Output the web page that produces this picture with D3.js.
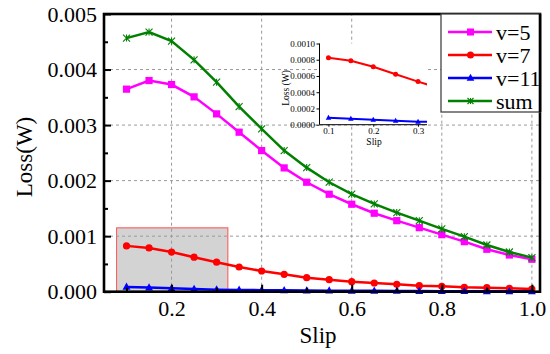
<!DOCTYPE html>
<html>
<head>
<meta charset="UTF-8">
<title>Loss vs Slip</title>
<style>
  body { margin: 0; background: #fff; }
  svg text { font-family: "Liberation Serif", "Tinos", "Times New Roman", "DejaVu Serif", "Noto Serif", serif; }
</style>
</head>
<body>
<script src="https://d3js.org/d3.v7.min.js"></script>
<script>
// data
var slip = [0.10, 0.15, 0.20, 0.25, 0.30, 0.35, 0.40, 0.45, 0.50, 0.55,
            0.60, 0.65, 0.70, 0.75, 0.80, 0.85, 0.90, 0.95, 1.00];
var v5  = [0.003647, 0.003802, 0.003730, 0.003508, 0.003202, 0.002872, 0.002541, 0.002229, 0.001971, 0.001755,
           0.001575, 0.001413, 0.001279, 0.001153, 0.001027, 0.000901, 0.000764, 0.000661, 0.000584];
var v7  = [0.000825, 0.000788, 0.000714, 0.000621, 0.000531, 0.000445, 0.000373, 0.000313, 0.000252, 0.000216,
           0.000180, 0.000157, 0.000133, 0.000108, 0.000097, 0.000079, 0.000072, 0.000061, 0.000049];
var v11 = [0.000086, 0.000074, 0.000062, 0.000049, 0.000037, 0.000032, 0.000028, 0.000024, 0.000021, 0.000019,
           0.000017, 0.000015, 0.000013, 0.000012, 0.000010, 0.000009, 0.000008, 0.000007, 0.000006];
var sum = [0.004566, 0.004674, 0.004511, 0.004175, 0.003773, 0.003333, 0.002932, 0.002541, 0.002234, 0.001971,
           0.001755, 0.001580, 0.001424, 0.001279, 0.001130, 0.000991, 0.000841, 0.000715, 0.000613];

var seriesNames = ["v=5", "v=7", "v=11", "sum"];
var xTicks = [0.2, 0.4, 0.6, 0.8, 1.0];
var yTicks = [0.000, 0.001, 0.002, 0.003, 0.004, 0.005];
var yMinor = [0.0005, 0.0015, 0.0025, 0.0035, 0.0045];
var xMinor = [0.1, 0.3, 0.5, 0.7, 0.9];
var zoomBox = { x0: 0.078, x1: 0.325, y0: 0, y1: 0.00115 };
var insetXTicks = [0.1, 0.2, 0.3];
var insetYTicks = [0.0000, 0.0002, 0.0004, 0.0006, 0.0008, 0.0010];

var W = 550, H = 354;
var svg = d3.select("body").append("svg").attr("width", W).attr("height", H);

var x = d3.scaleLinear().domain([0.05, 1.018]).range([104, 540]);
var y = d3.scaleLinear().domain([0, 0.005]).range([291.7, 14]);

var colors = { "v=5": "#ff00ff", "v=7": "#ff0000", "v=11": "#0000ff", "sum": "#008000" };
var values = { "v=5": v5, "v=7": v7, "v=11": v11, "sum": sum };

function marker(g, name, cx, cy, s) {
  var c = colors[name];
  if (name == "v=5") {
    g.append("rect").attr("x", cx - s).attr("y", cy - s).attr("width", 2 * s).attr("height", 2 * s).attr("fill", c);
  } else if (name == "v=7") {
    g.append("circle").attr("cx", cx).attr("cy", cy).attr("r", s).attr("fill", c);
  } else if (name == "v=11") {
    g.append("path").attr("d", "M" + cx + "," + (cy - s * 1.2) + "L" + (cx + s * 1.1) + "," + (cy + s * 0.8) + "L" + (cx - s * 1.1) + "," + (cy + s * 0.8) + "Z").attr("fill", c);
  } else {
    var k = s;
    g.append("path")
      .attr("d", "M" + (cx - k) + "," + (cy - k) + "L" + (cx + k) + "," + (cy + k) +
                 "M" + (cx - k) + "," + (cy + k) + "L" + (cx + k) + "," + (cy - k) +
                 "M" + cx + "," + (cy - k) + "L" + cx + "," + (cy + k))
      .attr("stroke", c).attr("stroke-width", 1.1).attr("fill", "none");
  }
}

// zoom region
svg.append("rect")
  .attr("x", x(zoomBox.x0)).attr("y", y(zoomBox.y1))
  .attr("width", x(zoomBox.x1) - x(zoomBox.x0)).attr("height", y(zoomBox.y0) - y(zoomBox.y1))
  .attr("fill", "#d3d3d3").attr("stroke", "#ff5050").attr("stroke-width", 1);

// grid
var grid = svg.append("g").attr("stroke", "#999").attr("stroke-width", 1).attr("stroke-dasharray", "3,3");
grid.selectAll(".gx").data(xTicks).enter().append("line")
  .attr("x1", d => x(d)).attr("x2", d => x(d)).attr("y1", y(0)).attr("y2", y(0.005));
grid.selectAll(".gy").data(yTicks.slice(1, 5)).enter().append("line")
  .attr("x1", x.range()[0]).attr("x2", x.range()[1]).attr("y1", d => y(d)).attr("y2", d => y(d));

// series
var line = d3.line().x((d, i) => x(slip[i])).y(d => y(d));
seriesNames.forEach(function(name) {
  svg.append("path").datum(values[name])
    .attr("d", line).attr("fill", "none")
    .attr("stroke", colors[name]).attr("stroke-width", 2.5);
  var mg = svg.append("g");
  values[name].forEach(function(v, i) {
    marker(mg, name, x(slip[i]), y(v), name == "sum" ? 3.5 : 3.6);
  });
});

// axes
var yAxis = svg.append("g").attr("transform", "translate(" + x.range()[0] + ",0)")
  .call(d3.axisLeft(y).tickValues(yTicks).tickSize(-7).tickPadding(7).tickFormat(d3.format(".3f")));
var yAxisMinor = svg.append("g").attr("transform", "translate(" + x.range()[0] + ",0)")
  .call(d3.axisLeft(y).tickValues(yMinor).tickSize(-4).tickFormat(""));
var xAxis = svg.append("g").attr("transform", "translate(0," + y.range()[0] + ")")
  .call(d3.axisBottom(x).tickValues(xTicks).tickSize(-7).tickPadding(9).tickFormat(d3.format(".1f")));
var xAxisMinor = svg.append("g").attr("transform", "translate(0," + y.range()[0] + ")")
  .call(d3.axisBottom(x).tickValues(xMinor).tickSize(-4).tickFormat(""));
[yAxis, yAxisMinor, xAxis, xAxisMinor].forEach(function(a) {
  a.attr("font-family", null);
  a.select(".domain").remove();
  a.selectAll("line").attr("stroke", "#000").attr("stroke-width", 2);
  a.selectAll("text").attr("font-size", 22).attr("fill", "#000");
});

// frame
svg.append("rect")
  .attr("x", x.range()[0]).attr("y", y.range()[1])
  .attr("width", x.range()[1] - x.range()[0]).attr("height", y.range()[0] - y.range()[1])
  .attr("fill", "none").attr("stroke", "#000").attr("stroke-width", 2.6);

// axis titles
svg.append("text").attr("x", 318).attr("y", 343).attr("text-anchor", "middle")
  .attr("font-size", 23).text("Slip");
svg.append("text").attr("transform", "translate(32,157) rotate(-90)").attr("text-anchor", "middle")
  .attr("font-size", 23).text("Loss(W)");

// inset
var ix = d3.scaleLinear().domain([0.08, 0.32]).range([319.5, 427]);
var iy = d3.scaleLinear().domain([0, 0.001]).range([124.7, 43.5]);
var inset = svg.append("g");
inset.append("rect").attr("x", ix.range()[0]).attr("y", iy.range()[1])
  .attr("width", ix.range()[1] - ix.range()[0]).attr("height", iy.range()[0] - iy.range()[1])
  .attr("fill", "#fff");
inset.append("clipPath").attr("id", "iclip").append("rect")
  .attr("x", ix.range()[0]).attr("y", iy.range()[1] - 5)
  .attr("width", ix.range()[1] - ix.range()[0]).attr("height", iy.range()[0] - iy.range()[1] + 5);
var iline = d3.line().x((d, i) => ix(slip[i])).y(d => iy(d));
var ig = inset.append("g").attr("clip-path", "url(#iclip)");
["v=7", "v=11"].forEach(function(name) {
  ig.append("path").datum(values[name]).attr("d", iline).attr("fill", "none")
    .attr("stroke", colors[name]).attr("stroke-width", 2);
  values[name].forEach(function(v, i) {
    if (slip[i] <= 0.3) marker(ig, name, ix(slip[i]), iy(v), 2.5);
  });
});
var iyAxis = inset.append("g").attr("transform", "translate(" + ix.range()[0] + ",0)")
  .call(d3.axisLeft(iy).tickValues(insetYTicks).tickSize(3).tickPadding(1.5).tickFormat(d3.format(".4f")));
var ixAxis = inset.append("g").attr("transform", "translate(0," + iy.range()[0] + ")")
  .call(d3.axisBottom(ix).tickValues(insetXTicks).tickSize(2).tickPadding(1).tickFormat(d3.format(".1f")));
[iyAxis, ixAxis].forEach(function(a) {
  a.attr("font-family", null);
  a.selectAll("path, line").attr("stroke", "#000").attr("stroke-width", 1);
  a.selectAll("text").attr("font-size", 9).attr("fill", "#000");
});
ixAxis.select(".domain").attr("d", "M" + ix.range()[0] + ",0H" + ix.range()[1]);
iyAxis.select(".domain").attr("d", "M0," + iy.range()[0] + "V" + iy.range()[1]);
inset.append("text").attr("x", 374).attr("y", 145).attr("text-anchor", "middle")
  .attr("font-size", 9.5).text("Slip");
inset.append("text").attr("transform", "translate(289,88) rotate(-90)").attr("text-anchor", "middle")
  .attr("font-size", 9.5).text("Loss (W)");

// legend
var legend = svg.append("g");
legend.append("rect").attr("x", 441).attr("y", 14).attr("width", 99).attr("height", 98)
  .attr("fill", "#fff").attr("stroke", "#444").attr("stroke-width", 1.3);
seriesNames.forEach(function(name, i) {
  var ly = 32 + i * 23;
  legend.append("line").attr("x1", 448).attr("x2", 492).attr("y1", ly).attr("y2", ly)
    .attr("stroke", colors[name]).attr("stroke-width", 2.5);
  marker(legend, name, 470.5, ly, name == "sum" ? 3 : 3.5);
  legend.append("text").attr("x", 496).attr("y", ly + 7.5).attr("font-size", 22).text(name);
});
svg.append("line").attr("x1", 540).attr("x2", 540).attr("y1", 14).attr("y2", 112)
  .attr("stroke", "#000").attr("stroke-width", 2.6);
</script>
</body>
</html>
